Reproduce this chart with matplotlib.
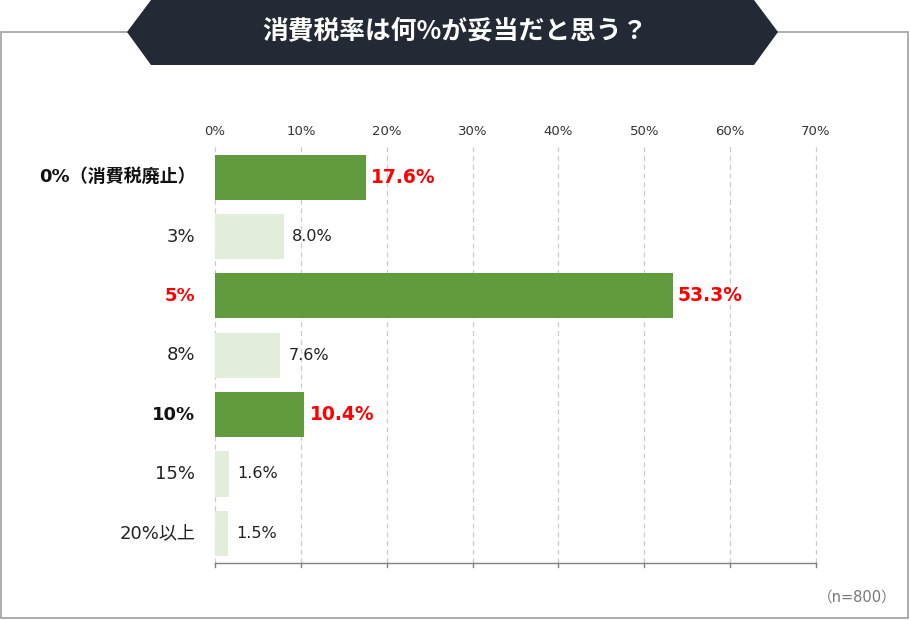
import matplotlib
matplotlib.use("Agg")
import matplotlib.pyplot as plt
from matplotlib.patches import Polygon, Rectangle

plt.rcParams['font.family'] = ['DejaVu Sans', 'Noto Sans CJK JP']

title = "消費税率は何%が妥当だと思う？"
categories = ["0%（消費税廃止）", "3%", "5%", "8%", "10%", "15%", "20%以上"]
values = [17.6, 8.0, 53.3, 7.6, 10.4, 1.6, 1.5]
highlight = [True, False, True, False, True, False, False]
label_red = [False, False, True, False, False, False, False]
xticks = [0, 10, 20, 30, 40, 50, 60, 70]
xtick_labels = [f"{t}%" for t in xticks]
note = "（n=800）"

DARK = "#629a3e"
LIGHT = "#e2eedb"
RED = "#ff0000"

W, H = 910, 620
fig = plt.figure(figsize=(W / 100, H / 100), dpi=100)

# background frame and banner (figure pixel coordinates)
bg = fig.add_axes([0, 0, 1, 1])
bg.set_xlim(0, W)
bg.set_ylim(H, 0)
bg.axis("off")
bg.add_patch(Rectangle((1, 32), 907, 586, fill=False, edgecolor="#a0a0a0", linewidth=1.2))
bg.add_patch(Polygon([(127, 32), (151, 0), (754, 0), (778, 32), (754, 65), (151, 65)],
                     closed=True, facecolor="#232a35", edgecolor="none"))
bg.text(455, 32, title, color="white", fontsize=18.5, fontweight="bold",
        ha="center", va="center", family=['Noto Sans CJK JP', 'DejaVu Sans'])
bg.text(897, 597, note, color="#777777", fontsize=10.5, ha="right", va="center")

ax = fig.add_axes([215 / W, (H - 563) / H, (816 - 215) / W, (563 - 147.5) / H])
ypos = list(range(len(categories)))
colors = [DARK if h else LIGHT for h in highlight]
ax.barh(ypos, values, height=0.76, color=colors, zorder=3)
ax.set_xlim(0, 70)
ax.set_ylim(len(categories) - 0.5, -0.5)
ax.set_xticks(xticks)
ax.set_xticklabels(xtick_labels)
ax.xaxis.tick_top()
ax.tick_params(axis="x", top=False, bottom=False, labelsize=9.5, labelcolor="#333333", pad=3)
for t in xticks:
    ax.plot([t, t], [len(categories) - 0.5, -0.55], color="#cccccc",
            linestyle=(0, (4, 3)), linewidth=0.9, zorder=0, clip_on=False)
for s in ["left", "right", "top"]:
    ax.spines[s].set_visible(False)
ax.spines["bottom"].set_color("#808080")
ax.spines["bottom"].set_linewidth(1.0)
# bottom tick marks
for t in xticks:
    ax.plot([t, t], [len(categories) - 0.5, len(categories) - 0.5 + 0.07],
            color="#808080", linewidth=1.0, clip_on=False, zorder=4)

ax.set_yticks(ypos)
ax.set_yticklabels([])
ax.tick_params(axis="y", left=False)
for i, (c, v) in enumerate(zip(categories, values)):
    col = RED if label_red[i] else ("#111111" if highlight[i] else "#222222")
    ax.text(-2.3, i, c, ha="right", va="center", fontsize=13,
            fontweight="bold" if highlight[i] else "normal", color=col)
    if highlight[i]:
        ax.text(v + 0.6, i, f"{v:.1f}%", ha="left", va="center", fontsize=13.5,
                fontweight="bold", color=RED)
    else:
        ax.text(v + 1.0, i, f"{v:.1f}%", ha="left", va="center", fontsize=11.5,
                color="#222222")

fig.savefig("out.png", dpi=100)
